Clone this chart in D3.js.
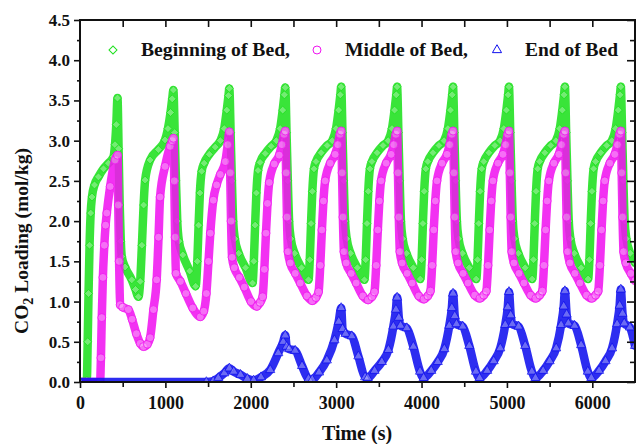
<!DOCTYPE html>
<html>
<head>
<meta charset="utf-8">
<script src="https://cdn.jsdelivr.net/npm/d3@7/dist/d3.min.js"></script>
<style>
  body { margin: 0; background: #fff; }
  svg { display: block; }
  text { font-family: "Liberation Serif", "Times New Roman", serif; font-weight: bold; fill: #111; }
</style>
</head>
<body>
<svg id="chart"></svg>
<script>
// CO2 loading (mol/kg) vs time (s)
var beginningBed = [
  [0,0],[40,0],[80,0.02],[90,0.5],[100,1.1],[112,1.7],[125,2.1],[140,2.3],[170,2.45],[216,2.55],[275,2.65],[333,2.72],[392,2.8],[410,2.95],[425,3.2],[439,3.53],
  [452,2.9],[465,2.2],[478,1.75],[489,1.56],[528,1.43],[606,1.27],[650,1.15],[684,1.06],[705,1.25],[725,1.7],[745,2.2],[763,2.51],[821,2.76],[918,2.89],[996,3.01],[1030,3.15],[1060,3.35],[1080,3.52],[1094,3.63],
  [1109,3.1],[1124,2.5],[1139,2.0],[1159,1.75],[1204,1.58],[1284,1.38],[1354,1.19],[1374,1.5],[1389,1.95],[1404,2.35],[1425,2.62],[1454,2.72],[1514,2.83],[1584,2.92],[1644,3.0],[1689,3.15],[1719,3.38],[1739,3.56],[1749,3.65],
  [1764,3.1],[1779,2.5],[1794,2.0],[1814,1.78],[1859,1.6],[1939,1.42],[2021,1.23],[2036,1.5],[2051,1.95],[2066,2.35],[2085,2.63],[2109,2.73],[2169,2.84],[2239,2.93],[2299,3.0],[2344,3.15],[2374,3.38],[2394,3.57],[2404,3.66],
  [2419,3.1],[2434,2.5],[2449,2.0],[2469,1.78],[2514,1.6],[2594,1.42],[2676,1.27],[2691,1.52],[2706,1.97],[2721,2.37],[2740,2.65],[2764,2.74],[2824,2.85],[2894,2.94],[2954,3.0],[2999,3.15],[3029,3.38],[3049,3.57],[3059,3.67],
  [3074,3.1],[3089,2.5],[3104,2.0],[3124,1.78],[3169,1.6],[3249,1.42],[3331,1.27],[3346,1.52],[3361,1.97],[3376,2.37],[3395,2.65],[3419,2.74],[3479,2.85],[3549,2.94],[3609,3.0],[3654,3.15],[3684,3.38],[3704,3.57],[3714,3.67],
  [3729,3.1],[3744,2.5],[3759,2.0],[3779,1.78],[3824,1.6],[3904,1.42],[3986,1.28],[4001,1.52],[4016,1.97],[4031,2.37],[4050,2.65],[4074,2.74],[4134,2.85],[4204,2.94],[4264,3.0],[4309,3.15],[4339,3.38],[4359,3.57],[4369,3.67],
  [4384,3.1],[4399,2.5],[4414,2.0],[4434,1.78],[4479,1.6],[4559,1.42],[4641,1.28],[4656,1.52],[4671,1.97],[4686,2.37],[4705,2.65],[4729,2.74],[4789,2.85],[4859,2.94],[4919,3.0],[4964,3.15],[4994,3.38],[5014,3.57],[5024,3.67],
  [5039,3.1],[5054,2.5],[5069,2.0],[5089,1.78],[5134,1.6],[5214,1.42],[5296,1.28],[5311,1.52],[5326,1.97],[5341,2.37],[5360,2.65],[5384,2.74],[5444,2.85],[5514,2.94],[5574,3.0],[5619,3.15],[5649,3.38],[5669,3.57],[5679,3.67],
  [5694,3.1],[5709,2.5],[5724,2.0],[5744,1.78],[5789,1.6],[5869,1.42],[5951,1.28],[5966,1.52],[5981,1.97],[5996,2.37],[6015,2.65],[6039,2.74],[6099,2.85],[6169,2.94],[6229,3.0],[6274,3.15],[6304,3.38],[6324,3.57],[6334,3.67],
  [6349,3.1],[6364,2.5],[6379,2.0],[6399,1.78],[6444,1.6],[6500,1.48]
];

var middleBed = [
  [0,0],[235,0],[245,0.3],[255,0.8],[268,1.3],[285,1.7],[300,1.95],[314,2.1],[353,2.43],[411,2.76],[439,2.82],
  [448,2.2],[458,1.5],[470,0.96],[500,0.93],[567,0.9],[610,0.78],[660,0.6],[705,0.48],[743,0.44],[790,0.47],[821,0.55],[860,0.9],[898,1.27],[920,1.8],[938,2.3],[996,2.68],[1055,2.93],[1080,3.0],[1094,3.03],
  [1104,2.5],[1114,1.8],[1124,1.35],[1176,1.25],[1240,1.1],[1320,0.92],[1409,0.81],[1450,0.88],[1480,1.1],[1505,1.5],[1526,1.85],[1561,2.26],[1600,2.45],[1643,2.58],[1702,2.74],[1730,2.95],[1749,3.11],
  [1759,2.6],[1769,2.0],[1781,1.55],[1807,1.42],[1866,1.3],[1924,1.18],[2002,1.0],[2072,0.94],[2110,0.99],[2139,1.06],[2159,1.4],[2178,1.85],[2196,2.22],[2216,2.48],[2275,2.71],[2333,2.82],[2364,2.95],[2389,3.08],[2404,3.12],
  [2414,2.6],[2424,2.05],[2436,1.62],[2462,1.48],[2521,1.35],[2579,1.23],[2657,1.07],[2719,1.01],[2764,1.05],[2794,1.12],[2814,1.45],[2833,1.89],[2851,2.25],[2871,2.5],[2930,2.72],[2988,2.83],[3019,2.95],[3044,3.08],[3059,3.12],
  [3069,2.6],[3079,2.05],[3091,1.62],[3117,1.48],[3176,1.35],[3234,1.23],[3312,1.07],[3374,1.02],[3419,1.06],[3449,1.12],[3469,1.45],[3488,1.89],[3506,2.25],[3526,2.5],[3585,2.72],[3643,2.83],[3674,2.95],[3699,3.08],[3714,3.12],
  [3724,2.6],[3734,2.05],[3746,1.62],[3772,1.48],[3831,1.35],[3889,1.23],[3967,1.07],[4029,1.03],[4074,1.07],[4104,1.13],[4124,1.45],[4143,1.89],[4161,2.25],[4181,2.5],[4240,2.72],[4298,2.83],[4329,2.95],[4354,3.08],[4369,3.12],
  [4379,2.6],[4389,2.05],[4401,1.62],[4427,1.48],[4486,1.35],[4544,1.23],[4622,1.08],[4684,1.04],[4729,1.08],[4759,1.13],[4779,1.45],[4798,1.89],[4816,2.25],[4836,2.5],[4895,2.72],[4953,2.83],[4984,2.95],[5009,3.08],[5024,3.12],
  [5034,2.6],[5044,2.05],[5056,1.62],[5082,1.48],[5141,1.35],[5199,1.23],[5277,1.08],[5339,1.04],[5384,1.08],[5414,1.13],[5434,1.45],[5453,1.89],[5471,2.25],[5491,2.5],[5550,2.72],[5608,2.83],[5639,2.95],[5664,3.08],[5679,3.12],
  [5689,2.6],[5699,2.05],[5711,1.62],[5737,1.48],[5796,1.35],[5854,1.23],[5932,1.08],[5994,1.04],[6039,1.08],[6069,1.13],[6089,1.45],[6108,1.89],[6126,2.25],[6146,2.5],[6205,2.72],[6263,2.83],[6294,2.95],[6319,3.08],[6334,3.12],
  [6344,2.6],[6354,2.05],[6366,1.62],[6392,1.48],[6451,1.35],[6500,1.26]
];

var endBed = [
  [0,0],[1480,0],[1560,0.01],[1620,0.05],[1690,0.11],[1749,0.17],[1800,0.13],[1880,0.09],[1960,0.04],[2033,0.02],[2120,0.06],[2228,0.15],[2322,0.36],[2380,0.5],[2404,0.58],
  [2420,0.44],[2450,0.41],[2520,0.39],[2600,0.2],[2676,0.04],[2720,0.03],[2800,0.12],[2891,0.27],[2980,0.52],[3030,0.75],[3059,0.92],
  [3075,0.66],[3110,0.6],[3183,0.57],[3260,0.32],[3339,0.06],[3370,0.05],[3450,0.14],[3535,0.25],[3612,0.4],[3670,0.69],[3700,0.9],[3714,1.05],
  [3734,0.8],[3754,0.7],[3827,0.67],[3904,0.44],[3982,0.13],[4024,0.05],[4114,0.14],[4190,0.25],[4267,0.41],[4325,0.7],[4355,0.92],[4369,1.1],
  [4389,0.82],[4409,0.72],[4482,0.69],[4559,0.45],[4637,0.13],[4679,0.05],[4769,0.14],[4845,0.26],[4922,0.42],[4980,0.71],[5010,0.93],[5024,1.12],
  [5044,0.83],[5064,0.72],[5137,0.69],[5214,0.45],[5292,0.13],[5334,0.05],[5424,0.14],[5500,0.26],[5577,0.42],[5635,0.71],[5665,0.94],[5679,1.13],
  [5699,0.84],[5719,0.73],[5792,0.7],[5869,0.46],[5947,0.13],[5989,0.05],[6079,0.14],[6155,0.26],[6232,0.42],[6290,0.72],[6320,0.95],[6334,1.15],
  [6354,0.85],[6374,0.73],[6440,0.68],[6500,0.45]
];

var seriesNames = ["Beginning of Bed,", "Middle of Bed,", "End of Bed"];
var seriesColors = ["#1ee01e", "#f014f0", "#1010ee"];
var xTicks = [0, 1000, 2000, 3000, 4000, 5000, 6000];
var yTicks = [0, 0.5, 1.0, 1.5, 2.0, 2.5, 3.0, 3.5, 4.0, 4.5];

var W = 636, H = 444;
var margin = { top: 20, right: 1, bottom: 62, left: 80 };
var width = W - margin.left - margin.right,
    height = H - margin.top - margin.bottom;

var svg = d3.select("#chart").attr("width", W).attr("height", H);

var x = d3.scaleLinear().domain([0, 6500]).range([0, width]);
var y = d3.scaleLinear().domain([0, 4.5]).range([height, 0]);

var chart = svg.append("g")
    .attr("transform", "translate(" + margin.left + "," + margin.top + ")");

chart.append("clipPath").attr("id", "plot")
  .append("rect").attr("width", width).attr("height", height);

var plot = chart.append("g").attr("clip-path", "url(#plot)");

var line = d3.line()
    .x(function(d) { return x(d[0]); })
    .y(function(d) { return y(d[1]); })
    .curve(d3.curveMonotoneX);

var shapes = [
  d3.symbol().type(d3.symbolSquare).size(32),
  d3.symbol().type(d3.symbolCircle).size(50),
  d3.symbol().type(d3.symbolTriangle).size(36)
];
var rot = [45, 0, 0];

[beginningBed, middleBed, endBed].forEach(function(data, i) {
  plot.append("path")
    .datum(data)
    .attr("d", line)
    .attr("fill", "none")
    .attr("stroke", seriesColors[i])
    .attr("stroke-width", 8.5)
    .attr("stroke-opacity", 0.88)
    .attr("stroke-linejoin", "round")
    .attr("stroke-linecap", "round");

  plot.append("g").selectAll("path")
    .data(data)
    .enter().append("path")
    .attr("d", shapes[i])
    .attr("transform", function(d) {
      return "translate(" + x(d[0]) + "," + y(d[1]) + ") rotate(" + rot[i] + ")";
    })
    .attr("fill", "#fff")
    .attr("fill-opacity", 0.3)
    .attr("stroke", seriesColors[i])
    .attr("stroke-width", 0.8);
});

// axes
var xAxis = d3.axisBottom(x).tickValues(xTicks).tickFormat(d3.format("d")).tickSize(6).tickPadding(8);
var xMinor = d3.axisBottom(x).tickValues(d3.range(500, 6500, 1000)).tickSize(5).tickFormat("");
var yAxis = d3.axisLeft(y).tickValues(yTicks).tickFormat(d3.format(".1f")).tickSize(6).tickPadding(4);
var yMinor = d3.axisLeft(y).tickValues(d3.range(0.25, 4.5, 0.5)).tickSize(3).tickFormat("");

chart.append("g").attr("class", "x axis").attr("transform", "translate(0," + height + ")").call(xAxis);
chart.append("g").attr("class", "x minor").attr("transform", "translate(0," + height + ")").call(xMinor);
chart.append("g").attr("class", "y axis").call(yAxis);
chart.append("g").attr("class", "y minor").call(yMinor);

chart.append("g").attr("class", "top")
  .call(d3.axisTop(x).tickValues(d3.range(500, 6500, 500)).tickSize(-7).tickFormat(""));
chart.append("g").attr("class", "right").attr("transform", "translate(" + width + ",0)")
  .call(d3.axisRight(y).tickValues(yTicks).tickSize(-8).tickFormat(""));
chart.append("g").attr("class", "right").attr("transform", "translate(" + width + ",0)")
  .call(d3.axisRight(y).tickValues(d3.range(0.25, 4.5, 0.5)).tickSize(-5).tickFormat(""));

chart.selectAll(".domain").remove();
chart.selectAll(".tick line").attr("stroke", "#111").attr("stroke-width", 1.6);
chart.selectAll(".x.axis text").style("font-size", "18px").attr("fill", "#111");
chart.selectAll(".y.axis text").style("font-size", "17px").attr("fill", "#111");

chart.append("rect")
  .attr("width", width).attr("height", height)
  .attr("fill", "none").attr("stroke", "#111").attr("stroke-width", 2);

// axis titles
svg.append("text")
  .attr("x", 357).attr("y", 440)
  .attr("text-anchor", "middle")
  .style("font-size", "20px")
  .text("Time (s)");

var yt = svg.append("text")
  .attr("transform", "translate(28,241) rotate(-90)")
  .attr("text-anchor", "middle")
  .style("font-size", "19.5px");
yt.append("tspan").text("CO");
yt.append("tspan").attr("dy", 5).style("font-size", "14px").text("2");
yt.append("tspan").attr("dy", -5).text(" Loading (mol/kg)");

// legend
var legendX = [113, 317, 497];
var textX = [141, 345, 525];
var textW = [149, 123, 93];
var legend = svg.append("g");
seriesNames.forEach(function(name, i) {
  legend.append("path")
    .attr("d", shapes[i])
    .attr("transform", "translate(" + legendX[i] + ",50) rotate(" + rot[i] + ")")
    .attr("fill", "none")
    .attr("stroke", seriesColors[i])
    .attr("stroke-width", 1);
  legend.append("text")
    .attr("x", textX[i]).attr("y", 56)
    .attr("textLength", textW[i])
    .attr("lengthAdjust", "spacingAndGlyphs")
    .style("font-size", "18px")
    .text(name);
});
</script>
</body>
</html>
